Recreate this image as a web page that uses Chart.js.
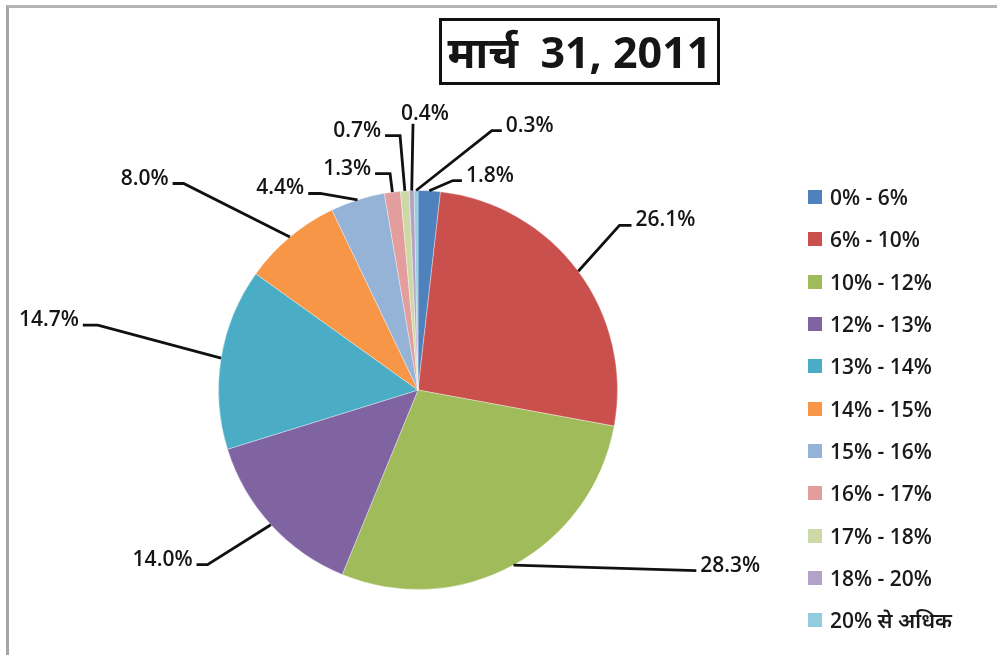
<!DOCTYPE html>
<html>
<head>
<meta charset="utf-8">
<script src="https://cdn.jsdelivr.net/npm/chart.js@4/dist/chart.umd.min.js"></script>
<style>
  body { margin: 0; background: #fff; font-family: "Open Sans", "Noto Sans", "Noto Sans Devanagari", sans-serif; }
  #wrap { position: relative; width: 997px; height: 655px; overflow: hidden; }
  #frame { position: absolute; left: 6px; top: 5px; right: -10px; bottom: -10px;
           border-left: 3px solid #a6a6a6; border-top: 3px solid #b5b5b5; }
  #title { position: absolute; left: 439px; top: 18px; width: 275px; height: 61px;
           border: 3px solid #111; font-family: "Noto Sans", sans-serif; font-weight: bold;
           font-size: 43px; line-height: 61px; text-align: center; color: #151515; white-space: pre; }
  #legend { position: absolute; left: 808px; top: 176px; }
  #legend .row { height: 42.3px; display: flex; align-items: center; font-size: 21px;
                 font-weight: 600; color: #1a1a1a; }
  #legend .box { width: 14px; height: 14px; margin-right: 8px; }
  canvas { position: absolute; left: 0; top: 0; }
</style>
</head>
<body>
<div id="wrap">
  <div id="frame"></div>
  <canvas id="pieChart" width="997" height="655"></canvas>
  <div id="title">मार्च  31, 2011</div>
  <div id="legend"></div>
</div>
<script>
const categories = ["0% - 6%", "6% - 10%", "10% - 12%", "12% - 13%", "13% - 14%", "14% - 15%",
  "15% - 16%", "16% - 17%", "17% - 18%", "18% - 20%", "20% से अधिक"];
const shares = [1.8, 26.1, 28.3, 14.0, 14.7, 8.0, 4.4, 1.3, 0.7, 0.4, 0.3];
const colors = ["#4f81bd", "#c9504d", "#a0bb59", "#8064a2", "#4bacc6", "#f79646",
  "#95b3d7", "#e29d9c", "#cdd9a5", "#b3a2c7", "#93cddd"];

// where each label's leader line ends, relative to the centre in radius units
// [dx, dy, side, hook length]
const labelSpots = [
  [0.175, -1.05, "right", 9],
  [1.01, -0.825, "right", 12],
  [1.395, 0.905, "right", 0],
  [-1.055, 0.875, "left", 11],
  [-1.605, -0.325, "left", 15],
  [-1.175, -1.035, "left", 11],
  [-0.49, -0.985, "left", 12],
  [-0.14, -1.085, "left", 15],
  [-0.09, -1.275, "left", 15],
  [-0.025, -1.335, "top", 0],
  [0.37, -1.3, "right", 10]
];

let legend = document.getElementById("legend");
categories.forEach((c, i) => {
  let row = document.createElement("div");
  row.className = "row";
  row.innerHTML = '<span class="box" style="background:' + colors[i] + '"></span><span>' + c + "</span>";
  legend.appendChild(row);
});

const leaderLabels = {
  id: "leaderLabels",
  afterDatasetsDraw(chart) {
    let ctx = chart.ctx;
    let meta = chart.getDatasetMeta(0);
    ctx.save();
    ctx.strokeStyle = "#111";
    ctx.lineWidth = 2.8;
    ctx.fillStyle = "#151515";
    ctx.font = '600 21px "Open Sans", "Noto Sans", sans-serif';
    ctx.textBaseline = "middle";
    meta.data.forEach((arc, i) => {
      let p = arc.getProps(["x", "y", "startAngle", "endAngle", "outerRadius"], true);
      let mid = (p.startAngle + p.endAngle) / 2;
      let px = p.x + Math.cos(mid) * p.outerRadius;
      let py = p.y + Math.sin(mid) * p.outerRadius;
      let [dx, dy, side, hook] = labelSpots[i];
      let ex = p.x + dx * p.outerRadius;
      let ey = p.y + dy * p.outerRadius;
      let text = shares[i].toFixed(1) + "%";
      ctx.beginPath();
      ctx.moveTo(px, py);
      ctx.lineTo(ex, ey);
      if (side == "right") {
        ctx.lineTo(ex + hook, ey);
        ctx.stroke();
        ctx.textAlign = "left";
        ctx.fillText(text, ex + hook + 4, ey - 5);
      } else if (side == "left") {
        ctx.lineTo(ex - hook, ey);
        ctx.stroke();
        ctx.textAlign = "right";
        ctx.fillText(text, ex - hook - 4, ey - 5);
      } else {
        ctx.stroke();
        ctx.textAlign = "left";
        ctx.textBaseline = "bottom";
        ctx.fillText(text, ex - 12, ey + 1);
        ctx.textBaseline = "middle";
      }
    });
    ctx.restore();
  }
};

var ctx = document.getElementById("pieChart").getContext("2d");
var pieChart = new Chart(ctx, {
  type: "pie",
  data: {
    labels: categories,
    datasets: [
      {
        data: shares,
        backgroundColor: colors,
        borderColor: "rgba(255,255,255,0.35)",
        borderWidth: 1,
      },
    ],
  },
  options: {
    responsive: false,
    animation: false,
    layout: { padding: { left: 218, right: 379, top: 190, bottom: 65 } },
    plugins: {
      legend: { display: false },
      tooltip: { enabled: false },
    },
  },
  plugins: [leaderLabels],
});
</script>
</body>
</html>
